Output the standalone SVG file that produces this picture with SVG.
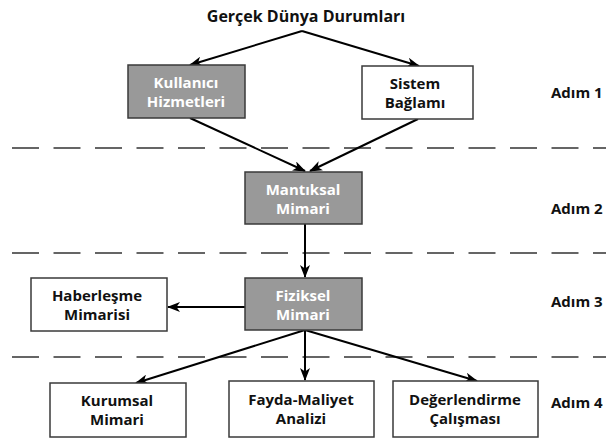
<svg xmlns="http://www.w3.org/2000/svg" width="606" height="441" viewBox="0 0 606 441">
<style>
.box{stroke:#3a3a3a;stroke-width:1.5}
.g{fill:#999999}
.w{fill:#ffffff}
.t{font-family:"Open Sans","Liberation Sans",sans-serif;font-weight:bold;font-size:15px;text-anchor:middle}
.tw{fill:#ffffff}
.tb{fill:#111111}
.step{font-family:"Open Sans","Liberation Sans",sans-serif;font-weight:bold;font-size:15px;fill:#111}
.dash{stroke:#333;stroke-width:1.3;stroke-dasharray:27 14.5;fill:none}
.c{stroke:#000;stroke-width:2;fill:none;marker-end:url(#ah)}
</style>
<defs>
<marker id="ah" viewBox="0 0 13 10" refX="12" refY="5" markerWidth="13" markerHeight="10" markerUnits="userSpaceOnUse" orient="auto">
<path d="M0,0 L13,5 L0,10 L3.5,5 z" fill="#000"/>
</marker>
</defs>
<rect width="606" height="441" fill="#fff"/>
<g id="separators">
<line class="dash" x1="12" y1="148" x2="606" y2="148"/>
<line class="dash" x1="12" y1="253" x2="606" y2="253"/>
<line class="dash" x1="12" y1="357" x2="606" y2="357"/>
</g>
<g id="connectors">
<polyline class="c" points="302,31 190,65"/>
<polyline class="c" points="302,31 419,66"/>
<line class="c" x1="190" y1="118" x2="305" y2="171"/>
<line class="c" x1="418" y1="119" x2="310" y2="171"/>
<line class="c" x1="305" y1="224" x2="305" y2="277"/>
<line class="c" x1="245" y1="307" x2="168" y2="307"/>
<line class="c" x1="305" y1="330" x2="136" y2="383"/>
<line class="c" x1="305" y1="330" x2="305" y2="380"/>
<line class="c" x1="305" y1="330" x2="477" y2="381"/>
</g>
<g id="title">
<text class="t tb" x="306" y="22" style="font-size:16px">Gerçek Dünya Durumları</text>
</g>
<g id="kullanici">
<rect class="box g" x="128" y="65" width="117" height="53"/>
<text class="t tw" x="186" y="88">Kullanıcı</text>
<text class="t tw" x="186" y="107">Hizmetleri</text>
</g>
<g id="sistem">
<rect class="box w" x="362" y="66" width="111" height="53"/>
<text class="t tb" x="415" y="89">Sistem</text>
<text class="t tb" x="415" y="108">Bağlamı</text>
</g>
<g id="mantiksal">
<rect class="box g" x="245" y="172" width="117" height="52"/>
<text class="t tw" x="303" y="195">Mantıksal</text>
<text class="t tw" x="303" y="214">Mimari</text>
</g>
<g id="fiziksel">
<rect class="box g" x="245" y="278" width="117" height="52"/>
<text class="t tw" x="303" y="301">Fiziksel</text>
<text class="t tw" x="303" y="320">Mimari</text>
</g>
<g id="haberlesme">
<rect class="box w" x="31" y="278" width="136" height="53"/>
<text class="t tb" x="97" y="301">Haberleşme</text>
<text class="t tb" x="97" y="320">Mimarisi</text>
</g>
<g id="kurumsal">
<rect class="box w" x="50" y="383" width="136" height="54"/>
<text class="t tb" x="117" y="406">Kurumsal</text>
<text class="t tb" x="117" y="425">Mimari</text>
</g>
<g id="fayda">
<rect class="box w" x="229" y="381" width="145" height="56"/>
<text class="t tb" x="301" y="405">Fayda-Maliyet</text>
<text class="t tb" x="301" y="424">Analizi</text>
</g>
<g id="degerlendirme">
<rect class="box w" x="393" y="381" width="145" height="56"/>
<text class="t tb" x="465" y="405">Değerlendirme</text>
<text class="t tb" x="465" y="424">Çalışması</text>
</g>
<g id="steps">
<text class="step" x="551" y="98">Adım 1</text>
<text class="step" x="551" y="214">Adım 2</text>
<text class="step" x="551" y="307">Adım 3</text>
<text class="step" x="551" y="408">Adım 4</text>
</g>
</svg>
